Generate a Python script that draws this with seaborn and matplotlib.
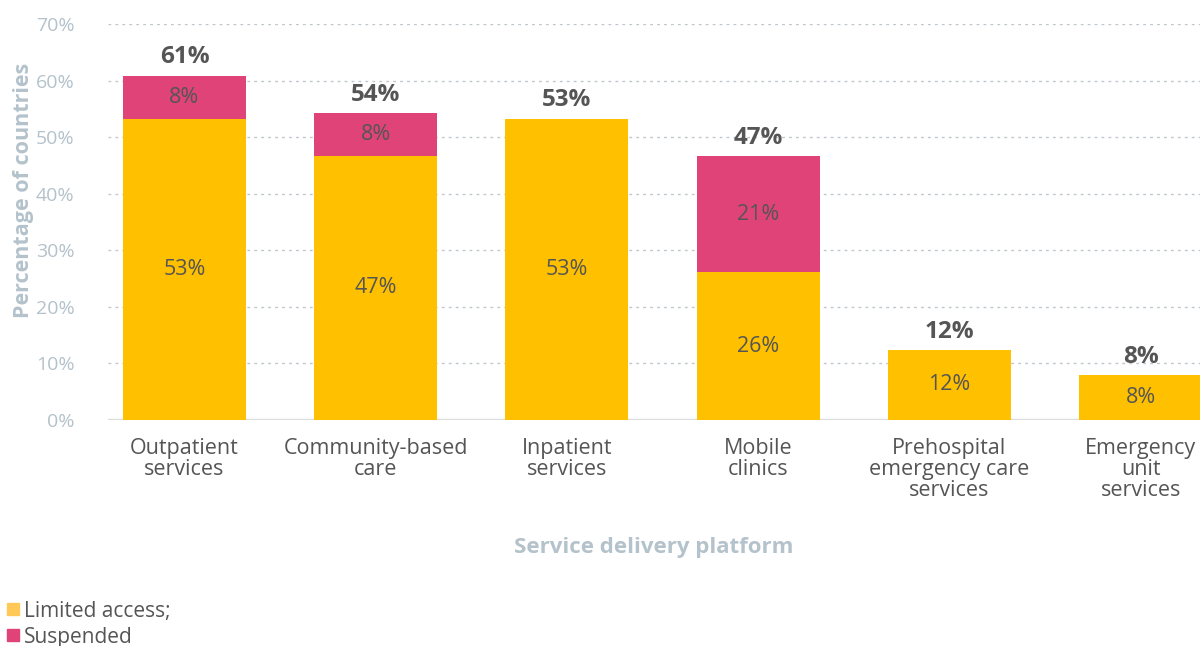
import matplotlib
matplotlib.use("Agg")
import matplotlib.pyplot as plt
import seaborn as sns
import pandas as pd
import numpy as np
from matplotlib.lines import Line2D

categories = ["Outpatient\nservices", "Community-based\ncare", "Inpatient\nservices",
              "Mobile\nclinics", "Prehospital\nemergency care\nservices", "Emergency\nunit\nservices"]
limited = [53.3, 46.7, 53.3, 26.1, 12.4, 8.0]
suspended = [7.6, 7.6, 0.0, 20.6, 0.0, 0.0]
yticks = [0, 10, 20, 30, 40, 50, 60, 70]

YELLOW = "#FFC000"
PINK = "#E04378"
DARK = "#555555"
LIGHT = "#B4C2CB"

sns.set_theme(style="white")
plt.rcParams["font.family"] = ["Open Sans", "DejaVu Sans"]

df = pd.DataFrame({"cat": categories, "limited": limited, "suspended": suspended})
df["total"] = df["limited"] + df["suspended"]

fig = plt.figure(figsize=(12, 6.46), dpi=100)
ax = fig.add_axes([0.09, 0.3498, 0.91, 0.613])

sns.barplot(data=df, x="cat", y="limited", color=YELLOW, width=0.643, ax=ax,
            saturation=1, zorder=3, linewidth=0)
sns.barplot(data=df, x="cat", y="suspended", color=PINK, width=0.643, ax=ax,
            saturation=1, bottom=df["limited"], zorder=3, linewidth=0)

ax.set_ylim(0, 70)
ax.set_xlim(-0.4, 5.31)
ax.set_yticks(yticks)
ax.set_yticklabels([f"{t}%" for t in yticks], color=LIGHT, fontsize=14)
ax.tick_params(axis="y", length=0, pad=24)
ax.tick_params(axis="x", length=0, pad=13, labelsize=15.5, labelcolor=DARK)
for lbl in ax.get_xticklabels():
    lbl.set_linespacing(1.0)
for t in yticks[1:]:
    ax.axhline(t, color="#BFC7CC", lw=1, ls=(0, (2, 3)), zorder=1)
ax.axhline(0, color="#DDDDDD", lw=2.5, zorder=2)
for s in ax.spines.values():
    s.set_visible(False)

ax.set_ylabel("Percentage of countries", color=LIGHT, fontsize=15.5, fontweight="bold")
ax.yaxis.set_label_coords(-0.068, 0.58)
ax.set_xlabel("Service delivery platform", color=LIGHT, fontsize=16, fontweight="bold", labelpad=26)

for i, row in df.iterrows():
    ax.text(i, row["limited"] / 2, f"{row['limited']:.0f}%", ha="center", va="center",
            fontsize=15.5, color=DARK, zorder=4)
    if row["suspended"] > 0:
        ax.text(i, row["limited"] + row["suspended"] / 2, f"{row['suspended']:.0f}%",
                ha="center", va="center", fontsize=15.5, color=DARK, zorder=4)
    ax.text(i, row["total"] + 1.1, f"{row['total']:.0f}%", ha="center", va="bottom",
            fontsize=17.5, fontweight="bold", color=DARK, zorder=4)

handles = [Line2D([], [], marker="s", ls="", color="#FFC857", markersize=8.5),
           Line2D([], [], marker="s", ls="", color=PINK, markersize=8.5)]
fig.legend(handles, ["Limited access;", "Suspended"], loc="lower left",
           bbox_to_anchor=(-0.007, -0.022), frameon=False, fontsize=15,
           labelcolor=DARK, handletextpad=0.05, labelspacing=0.25, handlelength=0.9,
           borderaxespad=0.2)

fig.savefig("out.png", dpi=100)
